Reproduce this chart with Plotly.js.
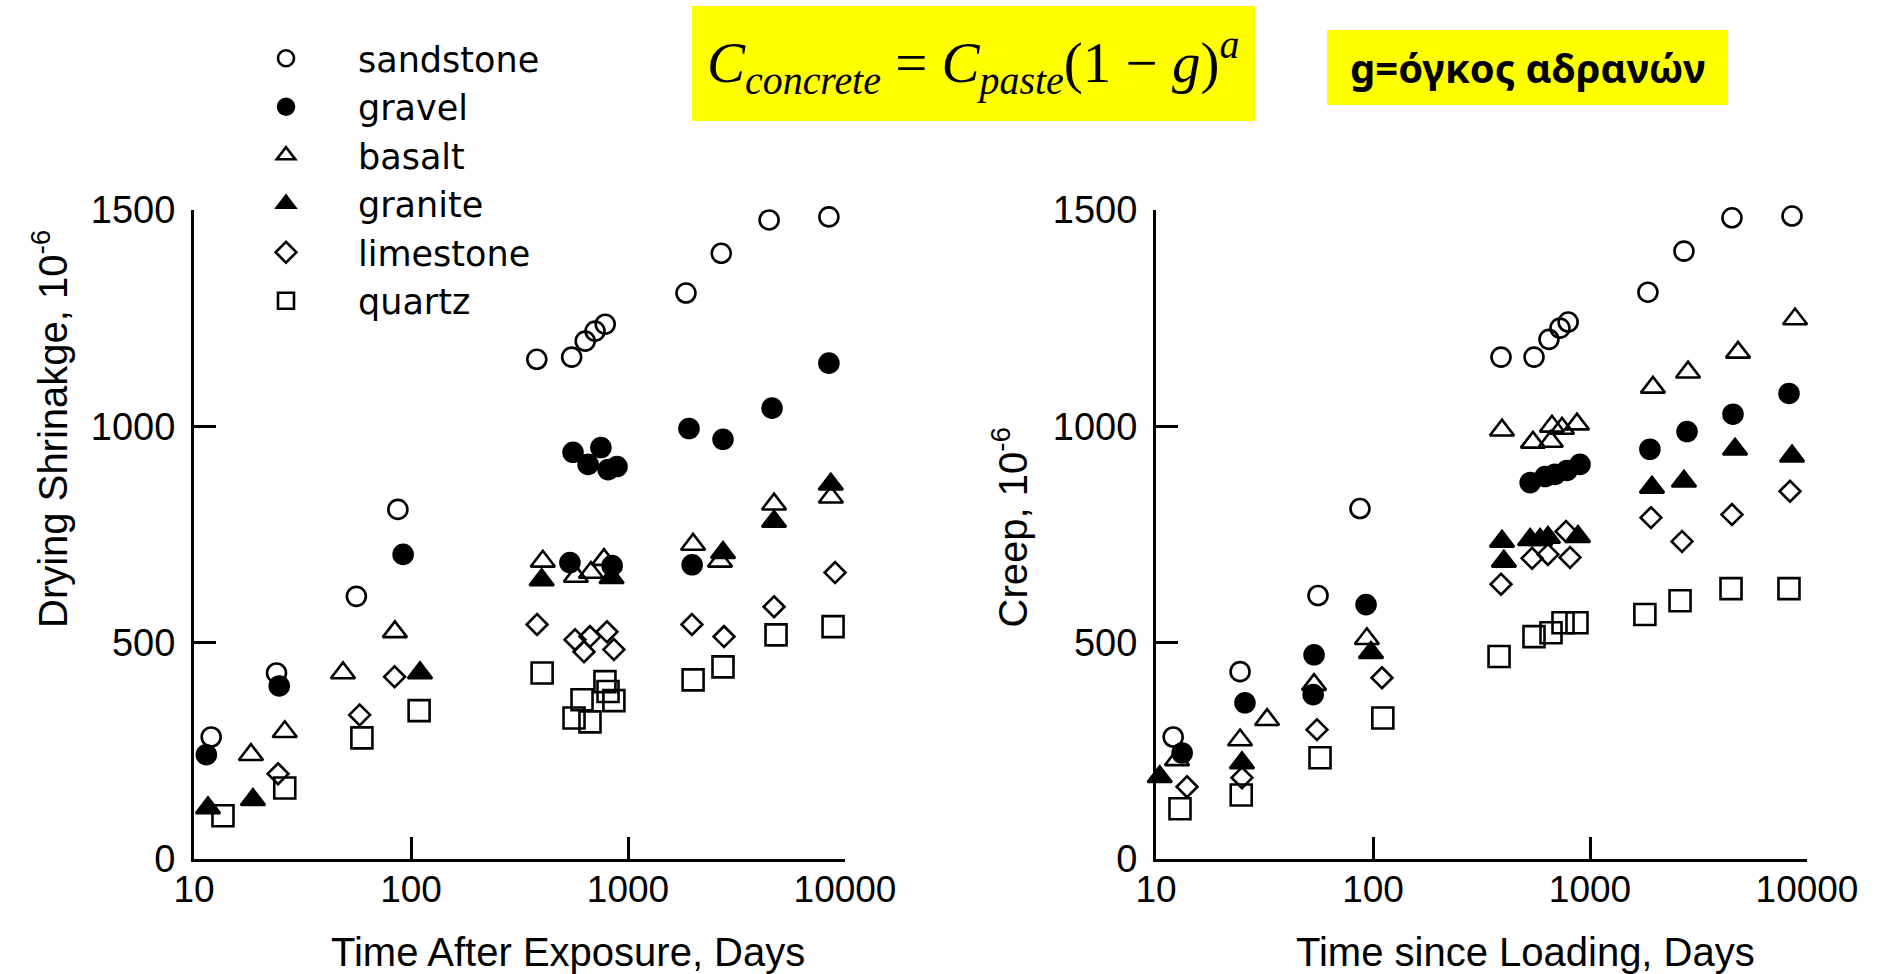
<!DOCTYPE html>
<html>
<head>
<meta charset="utf-8">
<script src="https://cdn.plot.ly/plotly-3.0.1.min.js"></script>
<style>
html,body{margin:0;padding:0;background:#fff;}
#chart{width:1878px;height:974px;}
</style>
</head>
<body>
<div id="chart"></div>
<script>
// ---------- tick labels ----------
const xTickVals = [10, 100, 1000, 10000];
const xTickLabels = ['10', '100', '1000', '10000'];
const yTickVals = [0, 500, 1000, 1500];
const yTickLabels = ['0', '500', '1000', '1500'];

// ---------- series names ----------
const seriesNames = ['sandstone', 'gravel', 'basalt', 'granite', 'limestone', 'quartz'];

// ---------- Drying shrinkage (left chart), days / 10^-6 ----------
const shrinkSandstoneX = [12, 24, 56, 87, 380, 550, 635, 705, 785, 1850, 2690, 4470, 8430];
const shrinkSandstoneY = [282, 430, 607, 808, 1155, 1160, 1197, 1220, 1236, 1308, 1400, 1477, 1484];

const shrinkGravelX = [11.4, 24.7, 92, 540, 558, 655, 750, 810, 845, 890, 1910, 1975, 2740, 4610, 8430];
const shrinkGravelY = [241, 400, 704, 685, 940, 912, 951, 900, 678, 907, 995, 680, 970, 1042, 1146];

const shrinkBasaltX = [18.3, 26.2, 48.6, 84.3, 405, 575, 675, 775, 1995, 2655, 4710, 8610];
const shrinkBasaltY = [241, 294, 430, 525, 688, 653, 662, 692, 727, 688, 820, 836];

const shrinkGraniteX = [11.6, 18.7, 110, 400, 840, 2740, 4710, 8600];
const shrinkGraniteY = [118, 137, 430, 645, 650, 708, 780, 866];

const shrinkLimestoneX = [24.4, 58, 84, 381, 570, 627, 668, 800, 861, 1970, 2770, 4710, 9000];
const shrinkLimestoneY = [197, 333, 421, 542, 507, 479, 514, 525, 484, 542, 514, 583, 662];

const shrinkQuartzX = [13.6, 26.2, 59.4, 109, 402, 564, 614, 668, 783, 809, 861, 1995, 2740, 4810, 8810];
const shrinkQuartzY = [100, 164, 280, 343, 430, 326, 368, 317, 410, 387, 366, 414, 444, 518, 537];

// ---------- Creep (right chart), days / 10^-6 ----------
const creepSandstoneX = [12, 24.4, 55.8, 87.1, 389, 552, 647, 727, 793, 1849, 2710, 4510, 8530];
const creepSandstoneY = [282, 433, 609, 810, 1160, 1160, 1201, 1227, 1241, 1310, 1405, 1482, 1486];

const creepGravelX = [13.2, 25.7, 53.5, 53, 92.9, 530, 621, 690, 783, 899, 1888, 2800, 4560, 8260];
const creepGravelY = [245, 361, 472, 380, 588, 870, 884, 889, 898, 912, 947, 988, 1028, 1076];

const creepBasaltX = [12.5, 24.4, 32.5, 53.5, 93.7, 393, 546, 660, 668, 743, 871, 1950, 2830, 4810, 8810];
const creepBasaltY = [229, 275, 322, 403, 509, 991, 963, 965, 1000, 995, 1005, 1090, 1125, 1171, 1248];

const creepGraniteX = [10.4, 24.9, 97.9, 393, 401, 530, 589, 640, 880, 1930, 2710, 4660, 8530];
const creepGraniteY = [190, 222, 477, 734, 688, 738, 738, 743, 745, 859, 873, 947, 931];

const creepLimestoneX = [13.9, 24.9, 55.2, 110, 389, 541, 640, 775, 809, 1910, 2655, 4510, 8350];
const creepLimestoneY = [167, 188, 299, 419, 635, 695, 704, 757, 697, 789, 734, 796, 850];

const creepQuartzX = [12.9, 24.7, 57, 111, 381, 552, 661, 751, 871, 1790, 2600, 4465, 8260];
const creepQuartzY = [116, 148, 234, 326, 468, 514, 523, 546, 546, 565, 597, 625, 625];

// ---------- text ----------
const leftXTitle = 'Time After Exposure, Days';
const rightXTitle = 'Time since Loading, Days';
const leftYTitle = 'Drying Shrinakge, 10<sup>-6</sup>';
const rightYTitle = 'Creep, 10<sup>-6</sup>';
const formulaText = '<i>C</i><sub><i>concrete</i></sub> = <i>C</i><sub><i>paste</i></sub>(1 − <i>g</i>)<sup><i>a</i></sup>';
const greekText = '<b>g=όγκος αδρανών</b>';

// ---------- styles ----------
const markerStyles = {
  sandstone: {symbol: 'circle-open', size: 19},
  gravel:    {symbol: 'circle', size: 19},
  basalt:    {symbol: 'triangle-up-open', size: 21},
  granite:   {symbol: 'triangle-up', size: 21},
  limestone: {symbol: 'diamond-open', size: 16},
  quartz:    {symbol: 'square-open', size: 21}
};

const shrinkData = {
  sandstone: [shrinkSandstoneX, shrinkSandstoneY],
  gravel: [shrinkGravelX, shrinkGravelY],
  basalt: [shrinkBasaltX, shrinkBasaltY],
  granite: [shrinkGraniteX, shrinkGraniteY],
  limestone: [shrinkLimestoneX, shrinkLimestoneY],
  quartz: [shrinkQuartzX, shrinkQuartzY]
};
const creepData = {
  sandstone: [creepSandstoneX, creepSandstoneY],
  gravel: [creepGravelX, creepGravelY],
  basalt: [creepBasaltX, creepBasaltY],
  granite: [creepGraniteX, creepGraniteY],
  limestone: [creepLimestoneX, creepLimestoneY],
  quartz: [creepQuartzX, creepQuartzY]
};

function makeTrace(name, xy, xa, ya, showLegend) {
  const st = markerStyles[name];
  return {
    type: 'scatter', mode: 'markers', name: name,
    x: xy[0], y: xy[1], xaxis: xa, yaxis: ya,
    legendgroup: name, showlegend: showLegend,
    cliponaxis: false,
    marker: {symbol: st.symbol, size: st.size, color: '#000',
             line: {color: '#000', width: 2.6}}
  };
}

const traces = [];
seriesNames.forEach(n => traces.push(makeTrace(n, shrinkData[n], 'x', 'y', true)));
seriesNames.forEach(n => traces.push(makeTrace(n, creepData[n], 'x2', 'y2', false)));

const W = 1878, H = 974;
const px = v => v / W;
const py = v => 1 - v / H;

function xAxis(domain, anchor) {
  return {
    type: 'log', range: [1, 4], domain: domain, anchor: anchor,
    tickmode: 'array', tickvals: xTickVals, ticktext: xTickLabels,
    ticks: 'inside', ticklen: 22, tickwidth: 3, tickcolor: '#000',
    showline: true, linewidth: 3, linecolor: '#000',
    showgrid: false, zeroline: false, fixedrange: true,
    tickfont: {size: 37, color: '#000'}, ticklabelstandoff: -4
  };
}
function yAxis(domain, anchor) {
  return {
    range: [0, 1500], domain: domain, anchor: anchor,
    tickmode: 'array', tickvals: yTickVals, ticktext: yTickLabels,
    ticks: 'inside', ticklen: 22, tickwidth: 3, tickcolor: '#000',
    showline: true, linewidth: 3, linecolor: '#000',
    showgrid: false, zeroline: false, fixedrange: true,
    tickfont: {size: 38, color: '#000'}, ticklabelstandoff: 8
  };
}

const yDomain = [py(859), py(210)];

const layout = {
  width: W, height: H,
  margin: {l: 0, r: 0, t: 0, b: 0, autoexpand: false},
  paper_bgcolor: '#fff', plot_bgcolor: 'rgba(0,0,0,0)',
  font: {family: '"Liberation Sans", Arial, sans-serif', color: '#000'},
  xaxis: xAxis([px(194), px(845)], 'y'),
  yaxis: yAxis(yDomain, 'x'),
  xaxis2: xAxis([px(1156), px(1807)], 'y2'),
  yaxis2: yAxis(yDomain, 'x2'),
  showlegend: true,
  legend: {
    x: px(214), y: py(29), xanchor: 'left', yanchor: 'top',
    bgcolor: 'rgba(0,0,0,0)', borderwidth: 0,
    font: {family: '"DejaVu Sans", "Liberation Sans", sans-serif', size: 35, color: '#000'},
    itemwidth: 134, tracegroupgap: 0
  },
  shapes: [
    {type: 'rect', xref: 'paper', yref: 'paper', x0: px(692), x1: px(1255), y0: py(121), y1: py(6),
     fillcolor: '#ffff00', line: {width: 0}, layer: 'below'},
    {type: 'rect', xref: 'paper', yref: 'paper', x0: px(1327), x1: px(1728), y0: py(105), y1: py(30),
     fillcolor: '#ffff00', line: {width: 0}, layer: 'below'}
  ],
  annotations: [
    {text: formulaText, xref: 'paper', yref: 'paper', x: px(973), y: py(62), xanchor: 'center', yanchor: 'middle',
     showarrow: false, font: {family: '"Liberation Serif", "Times New Roman", serif', size: 57, color: '#000'}},
    {text: greekText, xref: 'paper', yref: 'paper', x: px(1527), y: py(67), xanchor: 'center', yanchor: 'middle',
     showarrow: false, font: {family: '"Noto Sans", "Open Sans", sans-serif', size: 40, color: '#000'}},
    {text: leftXTitle, xref: 'paper', yref: 'paper', x: px(568), y: py(952), xanchor: 'center', yanchor: 'middle',
     showarrow: false, font: {size: 40, color: '#000'}},
    {text: rightXTitle, xref: 'paper', yref: 'paper', x: px(1525), y: py(952), xanchor: 'center', yanchor: 'middle',
     showarrow: false, font: {size: 40, color: '#000'}},
    {text: leftYTitle, xref: 'paper', yref: 'paper', x: px(50), y: py(630), xanchor: 'center', yanchor: 'bottom',
     textangle: -90, showarrow: false, font: {size: 40, color: '#000'}},
    {text: rightYTitle, xref: 'paper', yref: 'paper', x: px(1010), y: py(630), xanchor: 'center', yanchor: 'bottom',
     textangle: -90, showarrow: false, font: {size: 40, color: '#000'}}
  ]
};

Plotly.newPlot('chart', traces, layout, {staticPlot: true, displayModeBar: false});
</script>
</body>
</html>
